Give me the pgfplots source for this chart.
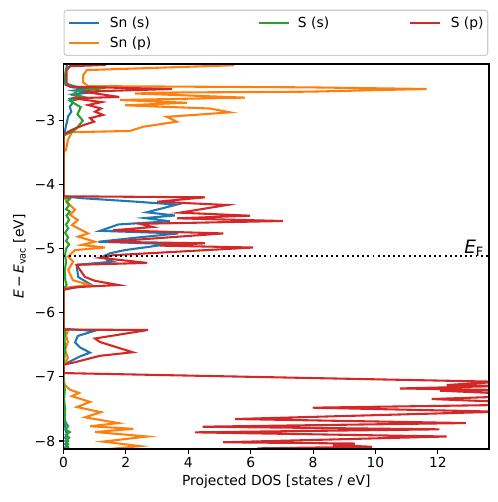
\documentclass[border=0pt]{standalone}
\usepackage{fontspec}
\setmainfont{DejaVu Sans}
\usepackage{pgfplots}
\pgfplotsset{compat=1.18}
\definecolor{c0}{HTML}{1F77B4}
\definecolor{c1}{HTML}{FF7F0E}
\definecolor{c2}{HTML}{2CA02C}
\definecolor{c3}{HTML}{D62728}
\begin{document}
\begin{tikzpicture}
\begin{axis}[name=ax, scale only axis, width=425.5bp, height=385bp,
  xmin=0, xmax=13.64, ymin=-8.125, ymax=-2.115,
  axis on top,
  xtick={0,2,4,6,8,10,12}, xticklabels={0,2,4,6,8,10,12},
  ytick={-8,-7,-6,-5,-4,-3}, yticklabels={−8,−7,−6,−5,−4,−3},
  tick align=outside, major tick length=4.86bp,
  xtick pos=bottom, ytick pos=left,
  tick style={line width=1.11bp, black},
  axis line style={line width=1.11bp},
  ticklabel style={font=\fontsize{13.9}{16}\selectfont},
  label style={font=\fontsize{13.9}{16}\selectfont},
  xlabel={Projected DOS [states / eV]},
  ylabel={\textit{E}\,−\,\textit{E}\textsubscript{vac} [eV]},
  ylabel shift=2bp,
  legend cell align=left,
  legend image code/.code={\draw[#1] (0bp,0bp) -- (29.5bp,0bp);},
  legend style={at={(0,1)}, anchor=south west, yshift=8bp,
    legend columns=3, draw=black!20, line width=1.11bp, rounded corners=2.8bp,
    font=\fontsize{13.9}{16}\selectfont,
    inner xsep=4.2bp, inner ysep=6.3bp, row sep=7.8bp,
    nodes={inner sep=0bp, text height=10.6bp, text depth=1.8bp},
    /tikz/column 1/.append style={column sep=10bp},
    /tikz/column 2/.append style={column sep=107bp},
    /tikz/column 3/.append style={column sep=8bp},
    /tikz/column 4/.append style={column sep=80bp},
    /tikz/column 5/.append style={column sep=10bp}},
]
% Sn (s)
\addplot[c0, line width=2.08bp, forget plot] coordinates {
(0.12,-2.10) (0.08,-2.20) (0.05,-2.35) (0.06,-2.44) (0.3,-2.48) (0.75,-2.50) (0.35,-2.53) (0.85,-2.56) (0.3,-2.59) (0.55,-2.62) (0.2,-2.66) (0.3,-2.72) (0.2,-2.78) (0.25,-2.86) (0.15,-2.93) (0.12,-3.0) (0.08,-3.08) (0.05,-3.16) (0,-3.22)
(0,-4.18) (0.6,-4.21) (2.19,-4.26) (3.63,-4.31) (2.67,-4.43) (3.57,-4.48) (2.61,-4.52) (3.41,-4.57) (1.76,-4.62) (1.17,-4.72) (3.68,-4.76) (2.45,-4.82) (1.12,-4.89) (3.41,-4.925) (1.97,-5.02) (1.49,-5.07) (1.27,-5.12) (1.39,-5.17) (1.59,-5.20) (0.42,-5.25) (0.47,-5.44) (0.9,-5.565) (0.05,-5.63) (0,-5.66)
(0,-6.25) (1.0,-6.28) (0.46,-6.36) (0.37,-6.46) (0.53,-6.54) (0.85,-6.62) (0.53,-6.68) (0.2,-6.76) (0,-6.81)
(0,-7.45) (0.05,-7.5) (0.03,-7.7) (0.08,-7.85) (0.12,-7.9) (0.05,-7.95) (0.15,-8.0) (0.05,-8.05) (0.15,-8.1) (0.1,-8.15)
};
% Sn (p)
\addplot[c1, line width=2.08bp, forget plot] coordinates {
(5.46,-2.10) (5.43,-2.135) (0.75,-2.21) (0.63,-2.29) (0.63,-2.40) (0.79,-2.46) (7.9,-2.48) (11.64,-2.505) (7.9,-2.547) (3.51,-2.56) (2.29,-2.575) (5.82,-2.64) (1.81,-2.677) (3.96,-2.72) (1.97,-2.76) (4.7,-2.81) (5.34,-2.87) (3.31,-2.94) (3.63,-3.016) (2.56,-3.094) (2.13,-3.16) (0.27,-3.18) (0.14,-3.30) (0.08,-3.457) (0,-3.49)
(0,-4.19) (0.08,-4.24) (0.21,-4.32) (0.37,-4.39) (0.21,-4.47) (0.46,-4.55) (0.27,-4.63) (0.79,-4.76) (0.47,-4.81) (1.01,-4.89) (0.58,-4.94) (1.33,-4.98) (0.37,-5.02) (0.15,-5.12) (0.31,-5.20) (0.15,-5.33) (0.3,-5.49) (0.85,-5.565) (0,-5.61)
(0,-6.24) (0.15,-6.27) (0.08,-6.35) (0.14,-6.455) (0.05,-6.58) (0.14,-6.70) (0.03,-6.81) (0,-6.845)
(0,-7.05) (0.05,-7.13) (0.21,-7.20) (0.5,-7.25) (0.27,-7.30) (0.85,-7.39) (0.43,-7.47) (1.2,-7.55) (0.69,-7.63) (1.75,-7.72) (0.85,-7.77) (2.24,-7.81) (1.01,-7.86) (2.68,-7.93) (1.27,-8.01) (2.45,-8.08) (1.59,-8.12) (1.97,-8.16)
};
% S (s)
\addplot[c2, line width=2.08bp, forget plot] coordinates {
(0.45,-2.10) (0.2,-2.15) (0.08,-2.2) (0.05,-2.3) (0.08,-2.42) (0.4,-2.47) (1.33,-2.49) (0.42,-2.54) (0.3,-2.6) (0.74,-2.64) (0.21,-2.69) (0.55,-2.79) (0.45,-2.9) (0.62,-3.0) (0.45,-3.1) (0.3,-3.17) (0.05,-3.22) (0,-3.25)
(0,-4.19) (0.2,-4.22) (0.1,-4.27) (0.18,-4.32) (0.08,-4.38) (0.2,-4.42) (0.1,-4.48) (0.18,-4.55) (0.08,-4.62) (0.15,-4.68) (0.05,-4.75) (0.15,-4.82) (0.08,-4.88) (0.18,-4.93) (0.08,-5.0) (0.05,-5.1) (0.08,-5.2) (0.04,-5.35) (0.06,-5.5) (0.1,-5.56) (0.02,-5.62) (0,-5.65)
(0,-6.24) (0.06,-6.26) (0.03,-6.4) (0.05,-6.55) (0.03,-6.7) (0,-6.82)
(0,-7.05) (0.04,-7.2) (0.02,-7.35) (0.05,-7.5) (0.03,-7.65) (0.08,-7.72) (0.15,-7.77) (0.06,-7.82) (0.2,-7.86) (0.08,-7.9) (0.18,-7.95) (0.06,-8.0) (0.15,-8.05) (0.05,-8.1) (0.12,-8.15)
};
% S (p)
\addplot[c3, line width=2.08bp, forget plot] coordinates {
(1.35,-2.10) (1.33,-2.13) (0.21,-2.15) (0.1,-2.21) (0.1,-2.43) (0.21,-2.47) (3.47,-2.505) (0.63,-2.547) (1.79,-2.63) (0.31,-2.65) (1.22,-2.71) (0.79,-2.755) (1.2,-2.81) (1.01,-2.86) (1.27,-2.91) (0.85,-2.96) (0.98,-3.016) (0.63,-3.07) (0.26,-3.145) (0.05,-3.20) (0,-3.22)
(0,-4.18) (4.54,-4.196) (3.0,-4.265) (5.24,-4.316) (3.73,-4.436) (5.98,-4.483) (3.64,-4.524) (7.03,-4.566) (2.45,-4.61) (2.87,-4.66) (1.59,-4.71) (5.12,-4.76) (1.43,-4.89) (4.54,-4.914) (3.09,-4.95) (6.08,-4.98) (1.59,-5.10) (1.17,-5.14) (2.68,-5.22) (0.42,-5.25) (0.53,-5.33) (0.69,-5.44) (1.01,-5.50) (1.76,-5.565) (0.37,-5.60) (0,-5.64)
(0,-6.26) (2.71,-6.267) (1.01,-6.40) (1.17,-6.455) (2.22,-6.615) (1.17,-6.67) (0.37,-6.77) (0,-6.81)
(0,-6.94) (14.0,-7.076) (12.28,-7.126) (14.0,-7.142) (10.78,-7.18) (14.0,-7.204) (12.07,-7.215) (14.0,-7.256) (14.0,-7.309) (11.8,-7.345) (14.0,-7.387) (14.0,-7.438) (7.99,-7.48) (14.0,-7.543) (5.5,-7.657) (12.9,-7.72) (4.46,-7.777) (12.05,-7.818) (4.21,-7.865) (12.28,-7.93) (5.12,-8.02) (9.34,-8.04) (8.64,-8.063) (9.89,-8.09) (6.35,-8.114) (6.6,-8.17)
};
% Fermi level
\addplot[black, line width=1.95bp, dash pattern=on 1.95bp off 3.2bp, forget plot] coordinates {(0,-5.112) (13.64,-5.112)};
\node[anchor=base east, inner sep=0pt, font=\fontsize{18.5}{22}\selectfont] at (axis cs:13.48,-5.07) {\textit{E}\textsubscript{F}};
\addlegendimage{c0, line width=2.08bp}\addlegendentry{Sn (s)}
\addlegendimage{c2, line width=2.08bp}\addlegendentry{S (s)}
\addlegendimage{c3, line width=2.08bp}\addlegendentry{S (p)}
\addlegendimage{c1, line width=2.08bp}\addlegendentry{Sn (p)}
\end{axis}
\pgfresetboundingbox
\path ([xshift=-63.5bp,yshift=-53bp]ax.south west) rectangle ([xshift=9bp,yshift=64bp]ax.north east);
\end{tikzpicture}
\end{document}
